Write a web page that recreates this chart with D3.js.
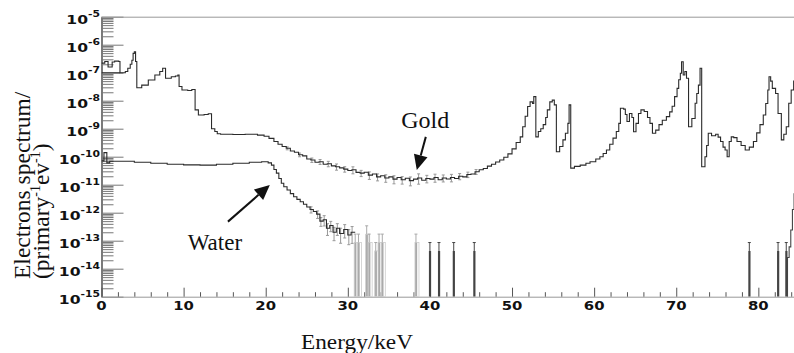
<!DOCTYPE html>
<html><head><meta charset="utf-8">
<script src="https://cdn.jsdelivr.net/npm/d3@7"></script>
<style>body{margin:0;background:#fff} svg{display:block}</style>
</head><body><svg id="c" width="794" height="353"></svg>
<script>
// ---------- data ----------
const xMajorTicks = [0,10,20,30,40,50,60,70,80];
const xMinorTicks = [2,4,6,8,12,14,16,18,22,24,26,28,32,34,36,38,42,44,46,48,52,54,56,58,62,64,66,68,72,74,76,78,82,84];
const yExponents = [-15,-14,-13,-12,-11,-10,-9,-8,-7,-6,-5];

// Gold spectrum (step histogram: bin start energy keV, value)
const goldE = [0,0.4,0.8,1.3,1.6,2.1,2.25,2.9,3.2,3.5,3.7,3.85,4.0,4.15,4.3,4.9,5.7,6.5,7.1,7.45,7.8,8.5,9.0,9.3,9.45,9.8,10.5,11.0,11.4,11.8,12.5,13.0,13.4,13.8,14.1,14.5,16,17.5,19,19.8,20.4,21.0,
21.5,22.0,22.5,23.0,23.5,24.0,24.5,25.0,25.5,26.0,26.5,27.0,27.5,28.0,28.5,29.0,29.5,30.0,30.5,31.0,31.5,32.0,32.5,33.0,33.5,34.0,34.5,35.0,35.5,36.0,36.5,37.0,37.5,38.0,38.5,39.0,39.5,40.0,40.5,41.0,41.5,42.0,42.5,43.0,43.5,44.0,44.5,45.0,45.5,46.0,46.5,47.0,47.5,48.0,48.5,49.0,49.5,50.0,50.5,51.0,51.3,51.6,51.9,52.2,52.5,52.65,52.9,53.2,53.5,53.8,54.1,54.3,54.6,54.9,55.15,55.4,55.8,56.2,56.5,56.8,56.95,57.15,57.6,58.3,59.0,59.5,60.2,60.7,61.1,61.5,61.9,62.3,62.7,63.0,63.2,63.6,63.8,64.0,64.3,64.6,64.8,65.1,65.4,65.7,66.1,66.5,66.8,67.1,67.5,67.9,68.3,68.8,69.2,69.5,69.8,70.1,70.3,70.5,70.65,70.85,71.05,71.25,71.5,71.9,72.3,72.5,72.7,72.9,73.1,73.5,73.7,73.9,74.3,74.8,75.1,75.4,75.7,75.95,76.2,76.45,76.7,77.0,77.4,77.9,78.4,78.9,79.4,79.8,80.2,80.6,80.9,81.15,81.3,81.5,81.7,82.1,82.4,82.8,83.1,83.4,83.7,84.0,84.3,85];
const goldV = [2.2e-7,2.5e-7,1.6e-7,2.4e-7,2.6e-7,2.5e-7,1.0e-7,1.1e-7,1.45e-7,2.0e-7,2.8e-7,4.9e-7,5.6e-7,2.5e-7,2.9e-8,3.6e-8,5.5e-8,8.3e-8,1.1e-7,1.45e-7,6.3e-8,7.2e-8,7.6e-8,8.3e-8,3.2e-8,2.4e-8,2.3e-8,2.5e-8,4.7e-9,3.1e-9,3.2e-9,3.4e-9,1.0e-9,7.9e-10,6.6e-10,6.3e-10,6.2e-10,6.3e-10,5.9e-10,5.4e-10,4.5e-10,3.5e-10,
2.8e-10,2.3e-10,2.0e-10,1.6e-10,1.45e-10,1.17e-10,1.07e-10,8.3e-11,7.6e-11,6.3e-11,6.6e-11,5.4e-11,5.6e-11,4.7e-11,4.4e-11,4.0e-11,3.6e-11,3.2e-11,3.4e-11,2.75e-11,2.6e-11,2.8e-11,2.2e-11,2.4e-11,1.9e-11,2.1e-11,1.74e-11,1.9e-11,1.58e-11,1.8e-11,1.5e-11,1.7e-11,1.4e-11,1.58e-11,1.74e-11,1.45e-11,1.66e-11,1.58e-11,1.8e-11,1.5e-11,1.74e-11,1.6e-11,1.8e-11,1.66e-11,2.0e-11,1.9e-11,2.3e-11,2.4e-11,2.9e-11,3.4e-11,3.8e-11,4.6e-11,5.4e-11,6.5e-11,7.6e-11,9.5e-11,1.26e-10,1.9e-10,3.2e-10,5.1e-10,1.17e-9,2.8e-9,6.2e-9,9.1e-9,7.9e-9,1.4e-8,5.1e-10,7.9e-10,1.0e-9,1.4e-9,2.5e-9,4.7e-9,9.1e-9,1.05e-8,7.1e-9,1.5e-10,2.3e-10,4.0e-10,6.9e-10,1.55e-9,7.1e-9,3.9e-11,4.5e-11,5.0e-11,5.8e-11,6.6e-11,8.3e-11,1.0e-10,1.3e-10,1.74e-10,2.8e-10,4.6e-10,7.9e-10,1.55e-9,5.4e-9,5.0e-9,3.2e-9,1.8e-9,3.5e-9,2.5e-9,7.8e-10,1.55e-9,3.5e-9,4.7e-9,4.1e-9,2.5e-9,1.55e-9,6.9e-10,8.9e-10,1.4e-9,2.0e-9,2.7e-9,4.0e-9,6.3e-9,1.4e-8,2.75e-8,5.6e-8,9.5e-8,2.45e-7,8.3e-8,1.1e-7,6.3e-8,1.17e-9,2.3e-9,8.1e-9,1.8e-8,3.6e-8,1.45e-7,4.4e-11,1.0e-10,2.5e-10,6.9e-10,5.6e-10,6.3e-10,5.0e-10,3.5e-10,2.2e-10,1.74e-10,1.0e-10,3.5e-10,5.1e-10,4.8e-10,3.5e-10,2.5e-10,1.74e-10,2.2e-10,3.5e-10,7.1e-10,1.4e-9,3.1e-9,7.9e-9,2.4e-8,7.2e-8,5.0e-8,2.75e-8,1.8e-8,3.5e-9,4.0e-10,6.3e-10,1.17e-9,8.1e-9,2.4e-8,5.0e-8,5.0e-8];
// low-energy gold floor branch (0 - 2.25 keV)
const goldFloorE = [0, 2.25];
const goldFloorV = [1.0e-7, 1.0e-7];
// gold error bars (energy, relative error)
const goldErrE = [22.5,24,25.5,26.5,27.5,28.5,29.5,30.5,31.5,32.5,33.5,34.5,35.5,36.5,37.5,38.5,39.5,40.5,41.5,42.5,43.5,44.5,45.5];
const goldErrFrac = [0.12,0.15,0.18,0.2,0.22,0.25,0.22,0.28,0.25,0.3,0.28,0.3,0.32,0.3,0.35,0.4,0.3,0.32,0.28,0.3,0.25,0.22,0.2];

// Water spectrum
const waterE = [0,0.3,0.65,1.0,2,4,6,8,10,12,14,16,18,19.5,20.3,20.7,21.0,21.3,21.6,21.9,22.2,22.6,23.0,23.4,23.8,24.2,24.6,25.0,25.4,25.8,26.2,26.6,27.0,27.4,27.8,28.2,28.6,29.0,29.5,30.0,30.4,30.9];
const waterV = [7.1e-11,1.4e-10,6.0e-11,6.9e-11,6.9e-11,6.3e-11,5.8e-11,5.4e-11,5.1e-11,5.0e-11,5.4e-11,5.8e-11,6.3e-11,6.6e-11,6.0e-11,5.0e-11,3.5e-11,2.6e-11,1.66e-11,1.12e-11,8.5e-12,6.5e-12,4.8e-12,3.7e-12,3.0e-12,2.45e-12,2.0e-12,1.6e-12,1.3e-12,1.1e-12,8.9e-13,5.0e-13,5.6e-13,2.8e-13,3.5e-13,2.0e-13,2.8e-13,1.8e-13,2.5e-13,1.6e-13,2.0e-13,2.0e-13];
const waterErrE = [25.4,26.2,26.6,27.0,27.4,27.8,28.2,28.6,29.0,29.5,30.0,30.4];
const waterErrFrac = [0.25,0.3,0.35,0.4,0.45,0.4,0.5,0.45,0.55,0.5,0.55,0.6];
// Water sparse (low-count) bins
const waterSparseE = [30.9,31.3,32.3,32.6,33.4,33.8,34.2,38.3,40.0,41.1,42.9,45.4,78.9,82.4,83.4];
const waterSparseV = [8.6e-14,8.6e-14,1.7e-13,8.6e-14,4.3e-14,8.6e-14,8.6e-14,8.6e-14,4.3e-14,4.3e-14,4.3e-14,4.3e-14,4.3e-14,4.3e-14,4.3e-14];
// Water high-energy tail
const waterTailE = [83.55,83.75,83.95,84.15,84.35];
const waterTailV = [2.5e-14,6.0e-14,2.4e-13,1.3e-12,5.0e-12];

// ---------- chart ----------
const svg = d3.select('#c');
const x = d3.scaleLinear().domain([0,85]).range([101.5, 799.4]);
const y = d3.scaleLog().domain([1e-15,1e-5]).range([296.7,16.7]);
const X0 = x(0), Y0 = y(1e-15), Y1 = y(1e-5);

svg.append('defs').append('clipPath').attr('id','clip')
  .append('rect').attr('x',X0).attr('y',Y1).attr('width',794-X0).attr('height',Y0-Y1);

// axes
const majorY = yExponents.map(e => Math.pow(10,e));
const minorY = [];
yExponents.slice(0,-1).forEach(e => { for (let k=2;k<=9;k++) minorY.push(+(k+'e'+e)); });

const gy1 = svg.append('g').attr('transform',`translate(${X0},0)`)
  .call(d3.axisRight(y).tickValues(majorY).tickSize(22).tickFormat('').tickSizeOuter(0));
const gy2 = svg.append('g').attr('transform',`translate(${X0},0)`)
  .call(d3.axisRight(y).tickValues(minorY).tickSize(12).tickFormat('').tickSizeOuter(0));
gy2.select('.domain').remove();
[gy1,gy2].forEach(g => g.selectAll('.tick line').attr('stroke','#777').attr('stroke-width',1));
gy1.select('.domain').attr('stroke','#333').attr('stroke-width',1.3);

const gx1 = svg.append('g').attr('transform',`translate(0,${Y0})`)
  .call(d3.axisTop(x).tickValues(xMajorTicks).tickSize(9).tickFormat('').tickSizeOuter(0));
const gx2 = svg.append('g').attr('transform',`translate(0,${Y0})`)
  .call(d3.axisTop(x).tickValues(xMinorTicks).tickSize(4.5).tickFormat('').tickSizeOuter(0));
gx2.select('.domain').remove();
gx1.select('.domain').attr('stroke','#999');
[gx1,gx2].forEach(g => g.selectAll('.tick line').attr('stroke','#555'));

// top frame
svg.append('line').attr('x1',X0).attr('x2',x(85)).attr('y1',Y1+0.5).attr('y2',Y1+0.5)
  .attr('stroke','#999').attr('stroke-width',1);

// x tick labels
svg.append('g').selectAll('text').data(xMajorTicks).join('text')
  .attr('transform', d => `translate(${x(d)},310) scale(1.24,1)`)
  .attr('text-anchor','middle')
  .style('font-family','DejaVu Sans').style('font-weight','bold').style('font-size','12px')
  .attr('fill','#111').text(d => d);

// y tick labels
const yl = svg.append('g').selectAll('text').data(yExponents).join('text')
  .attr('transform', d => `translate(100,${y(Math.pow(10,d))+7.5}) scale(1.2,1)`)
  .attr('text-anchor','end')
  .style('font-family','DejaVu Sans').style('font-weight','bold').style('font-size','13px')
  .attr('fill','#111');
yl.append('tspan').text('10');
yl.append('tspan').attr('dy',-7).style('font-size','9px').text(d => '-' + Math.abs(d));

// axis titles
svg.append('text').attr('x',357).attr('y',349).attr('text-anchor','middle')
  .attr('textLength',112).attr('lengthAdjust','spacingAndGlyphs')
  .style('font-family','Liberation Serif').style('font-size','20px').attr('fill','#111')
  .text('Energy/keV');

const yt1 = svg.append('text').attr('transform','translate(30,279) rotate(-90)')
  .style('font-family','Liberation Serif').style('font-size','23.5px').attr('fill','#111')
  .text('Electrons spectrum/');
const yt2 = svg.append('text').attr('transform','translate(49,279) rotate(-90)')
  .style('font-family','Liberation Serif').style('font-size','23.5px').attr('fill','#111');
yt2.append('tspan').text('(primary');
yt2.append('tspan').attr('dy',-9).style('font-size','14px').text('-1');
yt2.append('tspan').attr('dy',9).text('ev');
yt2.append('tspan').attr('dy',-9).style('font-size','14px').text('-1');
yt2.append('tspan').attr('dy',9).text(')');

// plot
const plot = svg.append('g').attr('clip-path','url(#clip)');
const zip = (a,b) => a.map((v,i) => [v,b[i]]);
const step = d3.line().x(d => x(d[0])).y(d => y(d[1])).curve(d3.curveStepAfter);
const lin = d3.line().x(d => x(d[0])).y(d => y(d[1]));

const goldData = zip(goldE, goldV);
const waterData = zip(waterE, waterV);
function valAt(E, V, e) { const i = Math.max(0, d3.bisectRight(E, e) - 1); return V[i]; }

// error bars
function errBars(Es, Fs, E, V, color) {
  const g = plot.append('g').attr('stroke', color).attr('stroke-width', 1);
  Es.forEach((e,i) => {
    const v = valAt(E, V, e) , f = Fs[i];
    const xx = x(e) + 1, yTop = y(v*(1+f)), yBot = y(v*(1-f));
    g.append('line').attr('x1',xx).attr('x2',xx).attr('y1',yTop).attr('y2',yBot);
    g.append('line').attr('x1',xx-1.5).attr('x2',xx+1.5).attr('y1',yTop).attr('y2',yTop);
    g.append('line').attr('x1',xx-1.5).attr('x2',xx+1.5).attr('y1',yBot).attr('y2',yBot);
  });
}
errBars(goldErrE, goldErrFrac, goldE, goldV, '#999');
errBars(waterErrE, waterErrFrac, waterE, waterV, '#999');

plot.append('path').datum(goldData).attr('d', step)
  .attr('fill','none').attr('stroke','#2a2a2a').attr('stroke-width',1.1);
plot.append('path').datum(zip(goldFloorE, goldFloorV)).attr('d', lin)
  .attr('fill','none').attr('stroke','#2a2a2a').attr('stroke-width',1.1);
plot.append('path').datum(waterData).attr('d', step)
  .attr('fill','none').attr('stroke','#2a2a2a').attr('stroke-width',1.1);

// sparse water bins: value marker down to axis + error bar to 2*value
const sp = plot.append('g');
waterSparseE.forEach((e,i) => {
  const v = waterSparseV[i];
  const light = e < 39;
  const col = light ? '#aaa' : '#444';
  const xx = x(e);
  sp.append('rect').attr('x', xx-1).attr('width', 2.2).attr('y', y(v)).attr('height', Y0 - y(v))
    .attr('fill', col);
  if (light) sp.append('rect').attr('x', xx-1).attr('width', 4).attr('y', y(v)).attr('height', Y0-y(v))
    .attr('fill','none').attr('stroke','#ccc').attr('stroke-width',0.8);
  sp.append('line').attr('x1',xx).attr('x2',xx).attr('y1',y(2*v)).attr('y2',y(v))
    .attr('stroke',col).attr('stroke-width',1);
  sp.append('line').attr('x1',xx-1.5).attr('x2',xx+1.5).attr('y1',y(2*v)).attr('y2',y(2*v))
    .attr('stroke',col).attr('stroke-width',1);
});
const tail = zip(waterTailE, waterTailV);
plot.append('path').attr('d', `M${x(waterTailE[0])},${Y0}` + step(tail).replace(/^M/,'L'))
  .attr('fill','none').attr('stroke','#444').attr('stroke-width',1.1);

// annotations (in data coordinates)
function arrow(e0, v0, e1, v1) {
  const x0 = x(e0), y0 = y(v0), x1 = x(e1), y1 = y(v1);
  const a = Math.atan2(y1-y0, x1-x0), L = 15, W = 7;
  const bx = x1 - L*Math.cos(a), by = y1 - L*Math.sin(a);
  svg.append('line').attr('x1',x0).attr('y1',y0).attr('x2',bx).attr('y2',by)
    .attr('stroke','#111').attr('stroke-width',2);
  svg.append('path').attr('d', `M${x1},${y1}L${bx + W*Math.sin(a)},${by - W*Math.cos(a)}L${bx - W*Math.sin(a)},${by + W*Math.cos(a)}Z`)
    .attr('fill','#111');
}
arrow(39.5, 5.1e-10, 38.4, 3.35e-11);
arrow(15.4, 4.8e-13, 20.5, 9.8e-12);

svg.append('text').attr('x', x(36.5)).attr('y', y(1.07e-9))
  .style('font-family','Liberation Serif').style('font-size','24px').attr('fill','#111').text('Gold');
svg.append('text').attr('x', x(10.5)).attr('y', y(4.7e-14))
  .style('font-family','Liberation Serif').style('font-size','23px').attr('fill','#111').text('Water');
</script></body></html>
